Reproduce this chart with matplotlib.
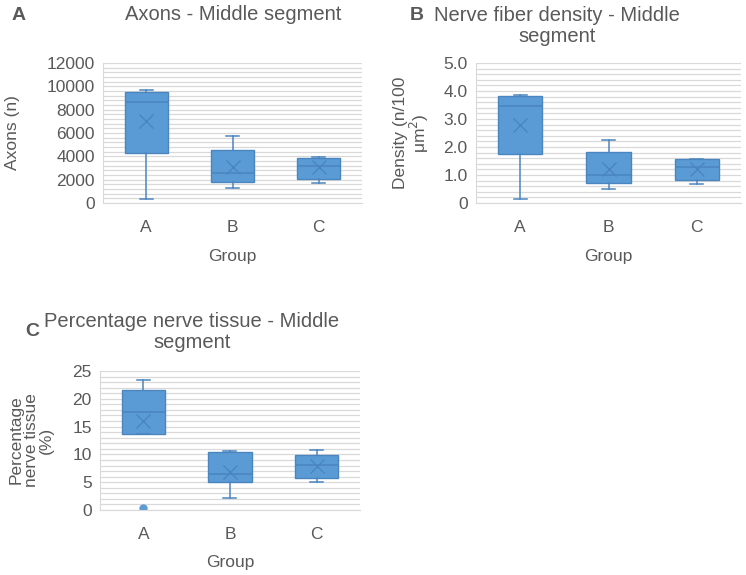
import matplotlib.pyplot as plt
from matplotlib.ticker import MultipleLocator, FuncFormatter

groups = ['A', 'B', 'C']

# Axons (n): whislo, q1, median, q3, whishi, mean
axons_lo = [370, 1260, 1690]
axons_q1 = [4310, 1830, 2060]
axons_med = [8630, 2540, 3200]
axons_q3 = [9510, 4570, 3890]
axons_hi = [9660, 5710, 3940]
axons_mean = [7000, 3060, 3060]

# Density (n/100 um2)
dens_lo = [0.15, 0.50, 0.68]
dens_q1 = [1.74, 0.73, 0.81]
dens_med = [3.45, 1.01, 1.27]
dens_q3 = [3.82, 1.83, 1.57]
dens_hi = [3.85, 2.26, 1.57]
dens_mean = [2.80, 1.21, 1.21]

# Percentage nerve tissue (%)
pct_lo = [13.6, 2.2, 5.1]
pct_q1 = [13.7, 5.0, 5.8]
pct_med = [17.6, 6.5, 8.1]
pct_q3 = [21.6, 10.4, 9.9]
pct_hi = [23.4, 10.6, 10.8]
pct_mean = [16.0, 6.8, 8.0]
pct_fliers = [[0.4], [], []]

W, H = 746, 575
fig = plt.figure(figsize=(W / 100, H / 100), dpi=100)
plt.rcParams['font.family'] = ['Liberation Sans', 'DejaVu Sans']

txt = '#595959'
fill = '#5B9BD5'
edge = '#4A85BE'
grid = '#D9D9D9'


def box_panel(rect, lo, q1, med, q3, hi, mean, fliers, ymax, major, fmt):
    l, t, r, b = rect
    ax = fig.add_axes([l / W, 1 - b / H, (r - l) / W, (b - t) / H])
    stats = []
    for i in range(len(groups)):
        stats.append(dict(whislo=lo[i], q1=q1[i], med=med[i], q3=q3[i], whishi=hi[i],
                          mean=mean[i], fliers=fliers[i], label=groups[i]))
    ax.bxp(stats, positions=range(len(groups)), widths=0.5, capwidths=0.15,
           patch_artist=True, showmeans=True,
           boxprops=dict(facecolor=fill, edgecolor=edge, lw=1),
           medianprops=dict(color=edge, lw=1.1),
           whiskerprops=dict(color=edge, lw=1.1),
           capprops=dict(color=edge, lw=1.1),
           meanprops=dict(marker='x', markeredgecolor=edge, markersize=10, markeredgewidth=1.0),
           flierprops=dict(marker='o', markerfacecolor=fill, markeredgecolor=fill, markersize=5))
    ax.set_xlim(-0.5, len(groups) - 0.5)
    ax.set_ylim(0, ymax)
    ax.yaxis.set_major_locator(MultipleLocator(major))
    ax.yaxis.set_minor_locator(MultipleLocator(major / 5))
    ax.yaxis.set_major_formatter(FuncFormatter(fmt))
    ax.grid(which='both', axis='y', color=grid, lw=0.9)
    ax.set_axisbelow(True)
    for s in ['top', 'right']:
        ax.spines[s].set_visible(False)
    for s in ['left', 'bottom']:
        ax.spines[s].set_color(grid)
    ax.tick_params(which='both', length=0, labelsize=12.5, colors=txt, pad=6)
    ax.tick_params(axis='x', pad=12)
    return ax


box_panel((103, 63, 362, 203), axons_lo, axons_q1, axons_med, axons_q3, axons_hi,
          axons_mean, [[], [], []], 12000, 2000, lambda v, p: f'{v:.0f}')
box_panel((476, 63, 741, 203), dens_lo, dens_q1, dens_med, dens_q3, dens_hi,
          dens_mean, [[], [], []], 5.0, 1.0, lambda v, p: '0' if v == 0 else f'{v:.1f}')
box_panel((100, 371, 360, 510), pct_lo, pct_q1, pct_med, pct_q3, pct_hi,
          pct_mean, pct_fliers, 25, 5, lambda v, p: f'{v:.0f}')


def ft(x, y, s, **kw):
    fig.text(x / W, 1 - y / H, s, color=txt, **kw)


# panel letters and titles
ft(12, 15, 'A', fontsize=14, fontweight='bold', va='center', ha='left')
ft(233, 15, 'Axons - Middle segment', fontsize=14.5, va='center', ha='center')
ft(410, 15, 'B', fontsize=14, fontweight='bold', va='center', ha='left')
ft(557, 26, 'Nerve fiber density - Middle\nsegment', fontsize=14.5, va='center', ha='center',
   linespacing=1.15)
ft(25, 332, 'C', fontsize=14, fontweight='bold', va='center', ha='left')
ft(192, 332, 'Percentage nerve tissue - Middle\nsegment', fontsize=14.5, va='center', ha='center',
   linespacing=1.15)

# axis titles
ft(13, 133, 'Axons (n)', fontsize=12.5, rotation=90, va='center', ha='center')
ft(412, 133, 'Density (n/100\nμm$^2$)', fontsize=12.5, rotation=90, va='center', ha='center',
   linespacing=1.0)
ft(31, 440, 'Percentage\nnerve tissue\n(%)', fontsize=12.5, rotation=90, va='center', ha='center',
   linespacing=1.0)
ft(232, 256, 'Group', fontsize=12.5, va='center', ha='center')
ft(608, 256, 'Group', fontsize=12.5, va='center', ha='center')
ft(230, 563, 'Group', fontsize=12.5, va='center', ha='center')

fig.savefig('out.png', dpi=100)
